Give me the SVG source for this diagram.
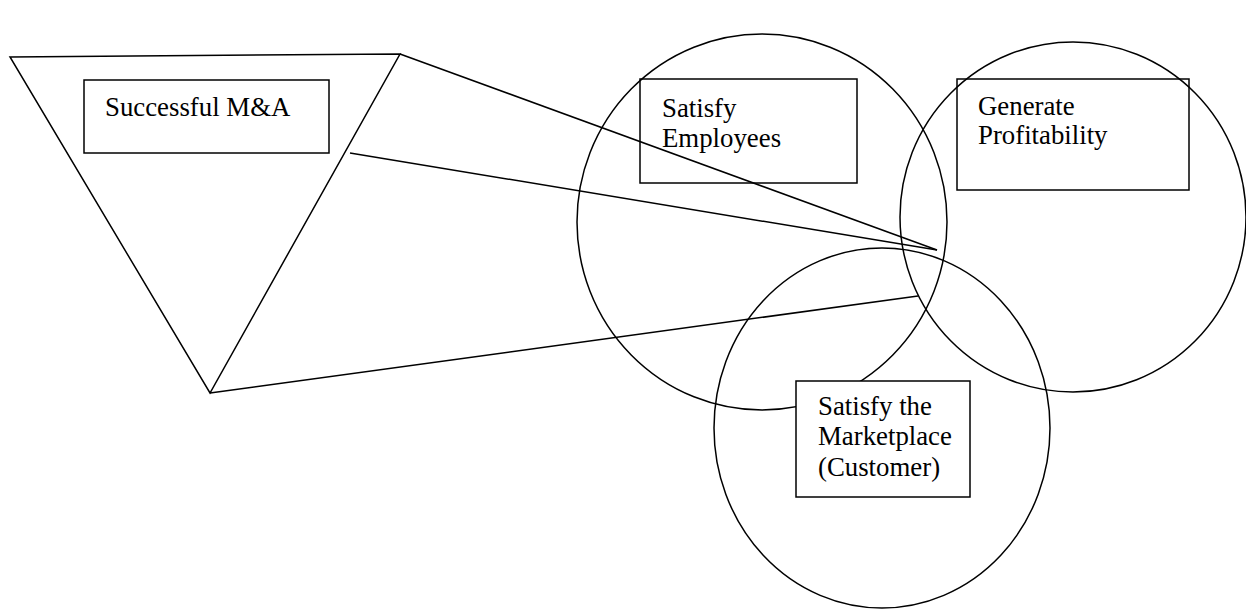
<svg xmlns="http://www.w3.org/2000/svg" width="1246" height="610" viewBox="0 0 1246 610">
<style>
.s{fill:none;stroke:#000;stroke-width:1.5}
.b{fill:#fff;stroke:#000;stroke-width:1.5}
text{font-family:"Liberation Serif","Times New Roman",serif;font-size:26.8px;fill:#000}
</style>
<rect width="1246" height="610" fill="#fff"/>
<g id="circle-employees"><ellipse class="s" cx="762" cy="222" rx="185" ry="188"/></g>
<g id="circle-profitability"><ellipse class="s" cx="1073" cy="217" rx="173" ry="175"/></g>
<g id="circle-marketplace"><ellipse class="s" cx="882" cy="428" rx="168" ry="180"/></g>
<g id="funnel"><polygon class="s" points="10,57 400,54 210,393"/></g>
<g id="connectors">
<line class="s" x1="400" y1="54" x2="937" y2="250"/>
<line class="s" x1="350" y1="153" x2="937" y2="250"/>
<line class="s" x1="210" y1="393" x2="918" y2="296"/>
</g>
<g id="box-ma"><rect class="b" x="84" y="80" width="245" height="73"/><text x="105" y="116">Successful M&amp;A</text></g>
<g id="box-employees"><rect class="s" x="640" y="79" width="217" height="104"/><text x="662" y="117">Satisfy</text><text x="662" y="147">Employees</text></g>
<g id="box-profitability"><rect class="s" x="957" y="79" width="232" height="111"/><text x="978" y="115">Generate</text><text x="978" y="144">Profitability</text></g>
<g id="box-marketplace"><rect class="b" x="796" y="381" width="174" height="116"/><text x="818" y="415">Satisfy the</text><text x="818" y="445">Marketplace</text><text x="818" y="476">(Customer)</text></g>
</svg>
